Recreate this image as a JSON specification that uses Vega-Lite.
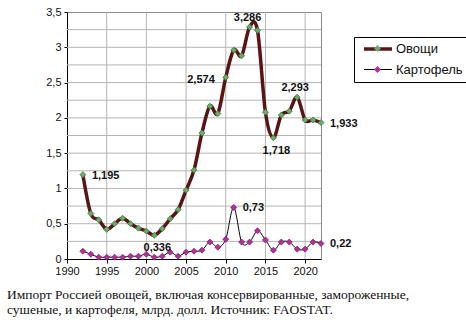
{
  "$schema": "https://vega.github.io/schema/vega-lite/v6.json",
  "autosize": "none",
  "width": 254,
  "height": 247,
  "padding": {"left": 67, "top": 12, "right": 145, "bottom": 68},
  "background": "white",
  "config": {
    "view": {"stroke": "#8c8c8c", "strokeWidth": 1},
    "font": "Liberation Sans",
    "locale": {"number": {"decimal": ",", "thousands": " ", "grouping": [3], "currency": ["", ""]}}
  },
  "title": {
    "text": ["Импорт Россией овощей, включая консервированные, замороженные,", "сушеные, и картофеля,  млрд. долл. Источник: FAOSTAT."],
    "orient": "bottom",
    "anchor": "start",
    "frame": "group",
    "dx": -60,
    "offset": 12,
    "font": "Liberation Serif",
    "fontSize": 13.5,
    "fontWeight": "normal",
    "lineHeight": 15,
    "color": "#111"
  },
  "datasets": {
    "gridYears": [{"year": 1995}, {"year": 2000}, {"year": 2005}, {"year": 2010}, {"year": 2015}, {"year": 2020}],
    "gridValues": [{"value": 0.25}, {"value": 0.5}, {"value": 0.75}, {"value": 1}, {"value": 1.25}, {"value": 1.5}, {"value": 1.75}, {"value": 2}, {"value": 2.25}, {"value": 2.5}, {"value": 2.75}, {"value": 3}, {"value": 3.25}],
    "imports": [
      {"year": 1992, "series": "Овощи", "value": 1.195},
      {"year": 1993, "series": "Овощи", "value": 0.645},
      {"year": 1994, "series": "Овощи", "value": 0.555},
      {"year": 1995, "series": "Овощи", "value": 0.42},
      {"year": 1996, "series": "Овощи", "value": 0.5},
      {"year": 1997, "series": "Овощи", "value": 0.578},
      {"year": 1998, "series": "Овощи", "value": 0.5},
      {"year": 1999, "series": "Овощи", "value": 0.437},
      {"year": 2000, "series": "Овощи", "value": 0.395},
      {"year": 2001, "series": "Овощи", "value": 0.336},
      {"year": 2002, "series": "Овощи", "value": 0.43},
      {"year": 2003, "series": "Овощи", "value": 0.57},
      {"year": 2004, "series": "Овощи", "value": 0.7},
      {"year": 2005, "series": "Овощи", "value": 0.975},
      {"year": 2006, "series": "Овощи", "value": 1.26},
      {"year": 2007, "series": "Овощи", "value": 1.785},
      {"year": 2008, "series": "Овощи", "value": 2.165},
      {"year": 2009, "series": "Овощи", "value": 2.06},
      {"year": 2010, "series": "Овощи", "value": 2.574},
      {"year": 2011, "series": "Овощи", "value": 2.96},
      {"year": 2012, "series": "Овощи", "value": 2.88},
      {"year": 2013, "series": "Овощи", "value": 3.286},
      {"year": 2014, "series": "Овощи", "value": 3.24},
      {"year": 2015, "series": "Овощи", "value": 2.08},
      {"year": 2016, "series": "Овощи", "value": 1.718},
      {"year": 2017, "series": "Овощи", "value": 2.04},
      {"year": 2018, "series": "Овощи", "value": 2.095},
      {"year": 2019, "series": "Овощи", "value": 2.293},
      {"year": 2020, "series": "Овощи", "value": 1.97},
      {"year": 2021, "series": "Овощи", "value": 1.97},
      {"year": 2022, "series": "Овощи", "value": 1.933},
      {"year": 1992, "series": "Картофель", "value": 0.11},
      {"year": 1993, "series": "Картофель", "value": 0.068},
      {"year": 1994, "series": "Картофель", "value": 0.026},
      {"year": 1995, "series": "Картофель", "value": 0.026},
      {"year": 1996, "series": "Картофель", "value": 0.026},
      {"year": 1997, "series": "Картофель", "value": 0.026},
      {"year": 1998, "series": "Картофель", "value": 0.04},
      {"year": 1999, "series": "Картофель", "value": 0.04},
      {"year": 2000, "series": "Картофель", "value": 0.068},
      {"year": 2001, "series": "Картофель", "value": 0.026},
      {"year": 2002, "series": "Картофель", "value": 0.04},
      {"year": 2003, "series": "Картофель", "value": 0.097},
      {"year": 2004, "series": "Картофель", "value": 0.04},
      {"year": 2005, "series": "Картофель", "value": 0.097},
      {"year": 2006, "series": "Картофель", "value": 0.11},
      {"year": 2007, "series": "Картофель", "value": 0.125},
      {"year": 2008, "series": "Картофель", "value": 0.24},
      {"year": 2009, "series": "Картофель", "value": 0.167},
      {"year": 2010, "series": "Картофель", "value": 0.28},
      {"year": 2011, "series": "Картофель", "value": 0.73},
      {"year": 2012, "series": "Картофель", "value": 0.24},
      {"year": 2013, "series": "Картофель", "value": 0.24},
      {"year": 2014, "series": "Картофель", "value": 0.4},
      {"year": 2015, "series": "Картофель", "value": 0.27},
      {"year": 2016, "series": "Картофель", "value": 0.125},
      {"year": 2017, "series": "Картофель", "value": 0.24},
      {"year": 2018, "series": "Картофель", "value": 0.24},
      {"year": 2019, "series": "Картофель", "value": 0.14},
      {"year": 2020, "series": "Картофель", "value": 0.14},
      {"year": 2021, "series": "Картофель", "value": 0.24},
      {"year": 2022, "series": "Картофель", "value": 0.22}
    ]
  },
  "layer": [
    {
      "data": {"name": "gridYears"},
      "mark": {"type": "rule", "color": "#b4b4b4", "strokeWidth": 1},
      "encoding": {
        "x": {
          "field": "year", "type": "quantitative",
          "scale": {"domain": [1990, 2022], "nice": false, "zero": false},
          "axis": {
            "title": null, "grid": false,
            "values": [1990, 1995, 2000, 2005, 2010, 2015, 2020],
            "format": "d", "labelFont": "Liberation Sans", "labelFontSize": 11, "labelColor": "#111",
            "domainColor": "#000", "tickColor": "#000", "tickSize": 4, "labelPadding": 2, "labelFlush": false
          }
        }
      }
    },
    {
      "data": {"name": "gridValues"},
      "mark": {"type": "rule", "color": "#b4b4b4", "strokeWidth": 1},
      "encoding": {
        "y": {
          "field": "value", "type": "quantitative",
          "scale": {"domain": [0, 3.5], "nice": false},
          "axis": {
            "title": null, "grid": false,
            "values": [0, 0.5, 1, 1.5, 2, 2.5, 3, 3.5],
            "format": "~g",
            "labelFont": "Liberation Sans", "labelFontSize": 11, "labelColor": "#111",
            "domainColor": "#000", "tickColor": "#000", "tickSize": 3, "labelPadding": 3, "labelFlush": false
          }
        }
      }
    },
    {
      "data": {"name": "imports"},
      "encoding": {
        "x": {
          "field": "year", "type": "quantitative",
          "scale": {"domain": [1990, 2022], "nice": false, "zero": false},
          "axis": {
            "title": null, "grid": false,
            "values": [1990, 1995, 2000, 2005, 2010, 2015, 2020],
            "format": "d", "labelFont": "Liberation Sans", "labelFontSize": 11, "labelColor": "#111",
            "domainColor": "#000", "tickColor": "#000", "tickSize": 4, "labelPadding": 2, "labelFlush": false
          }
        },
        "y": {
          "field": "value", "type": "quantitative",
          "scale": {"domain": [0, 3.5], "nice": false},
          "axis": {
            "title": null, "grid": false,
            "values": [0, 0.5, 1, 1.5, 2, 2.5, 3, 3.5],
            "format": "~g",
            "labelFont": "Liberation Sans", "labelFontSize": 11, "labelColor": "#111",
            "domainColor": "#000", "tickColor": "#000", "tickSize": 3, "labelPadding": 3, "labelFlush": false
          }
        }
      },
      "layer": [
        {
          "mark": {"type": "line", "interpolate": "cardinal"},
          "encoding": {
            "detail": {"field": "series"},
            "color": {
              "field": "series", "type": "nominal",
              "scale": {"domain": ["Овощи", "Картофель"], "range": ["#5a1414", "#000000"]},
              "legend": {
                "title": null, "orient": "none", "legendX": 287, "legendY": 25,
                "symbolType": "M-2.8,0H2.8", "symbolSize": 100, "symbolOffset": 12,
                "strokeColor": "#000", "fillColor": "white", "padding": 5,
                "labelFont": "Liberation Sans", "labelFontSize": 13, "labelColor": "#111",
                "labelOffset": 11, "rowPadding": 7
              }
            },
            "strokeWidth": {
              "field": "series", "type": "nominal",
              "scale": {"domain": ["Овощи", "Картофель"], "range": [3.5, 1]},
              "legend": {
                "title": null, "orient": "none", "legendX": 287, "legendY": 25,
                "symbolType": "M-2.8,0H2.8", "symbolSize": 100, "symbolOffset": 12,
                "strokeColor": "#000", "fillColor": "white", "padding": 5,
                "labelFont": "Liberation Sans", "labelFontSize": 13, "labelColor": "#111",
                "labelOffset": 11, "rowPadding": 7
              }
            }
          }
        },
        {
          "transform": [{"calculate": "datum.series", "as": "marker"}],
          "mark": {"type": "point", "shape": "diamond", "filled": true, "size": 36, "strokeWidth": 0.8, "opacity": 1},
          "encoding": {
            "fill": {
              "field": "marker", "type": "nominal",
              "sort": ["Овощи", "Картофель"],
              "scale": {"range": ["#6aaa6a", "#b0309a"]},
              "legend": {
                "title": null, "orient": "none", "legendX": 287, "legendY": 25,
                "symbolType": "M0,-0.68L0.68,0L0,0.68L-0.68,0Z", "symbolSize": 100, "symbolOffset": 12,
                "symbolStrokeWidth": 0, "padding": 5,
                "labelFont": "Liberation Sans", "labelFontSize": 13, "labelOpacity": 0,
                "labelOffset": 11, "rowPadding": 7
              }
            },
            "stroke": {
              "field": "marker", "type": "nominal",
              "sort": ["Овощи", "Картофель"],
              "scale": {"range": ["#3d7a3d", "#8a1f78"]},
              "legend": null
            }
          }
        },
        {
          "transform": [{"filter": "(datum.series == 'Овощи' && (datum.year == 1992 || datum.year == 2022)) || (datum.series == 'Картофель' && (datum.year == 2011 || datum.year == 2022))"}],
          "mark": {"type": "text", "align": "left", "baseline": "middle", "dx": 9, "dy": 1, "font": "Liberation Sans", "fontSize": 11, "fontWeight": "bold", "color": "#111"},
          "encoding": {"text": {"field": "value", "type": "quantitative", "format": ".3~f"}}
        },
        {
          "transform": [{"filter": "datum.series == 'Овощи' && (datum.year == 2013 || datum.year == 2019)"}],
          "mark": {"type": "text", "align": "center", "baseline": "middle", "dx": -2, "dy": -9, "font": "Liberation Sans", "fontSize": 11, "fontWeight": "bold", "color": "#111"},
          "encoding": {"text": {"field": "value", "type": "quantitative", "format": ".3~f"}}
        },
        {
          "transform": [{"filter": "datum.series == 'Овощи' && (datum.year == 2016 || datum.year == 2001)"}],
          "mark": {"type": "text", "align": "center", "baseline": "middle", "dx": 3, "dy": 13, "font": "Liberation Sans", "fontSize": 11, "fontWeight": "bold", "color": "#111"},
          "encoding": {"text": {"field": "value", "type": "quantitative", "format": ".3~f"}}
        },
        {
          "transform": [{"filter": "datum.series == 'Овощи' && datum.year == 2010"}],
          "mark": {"type": "text", "align": "right", "baseline": "middle", "dx": -11, "dy": 3, "font": "Liberation Sans", "fontSize": 11, "fontWeight": "bold", "color": "#111"},
          "encoding": {"text": {"field": "value", "type": "quantitative", "format": ".3~f"}}
        }
      ]
    }
  ]
}
